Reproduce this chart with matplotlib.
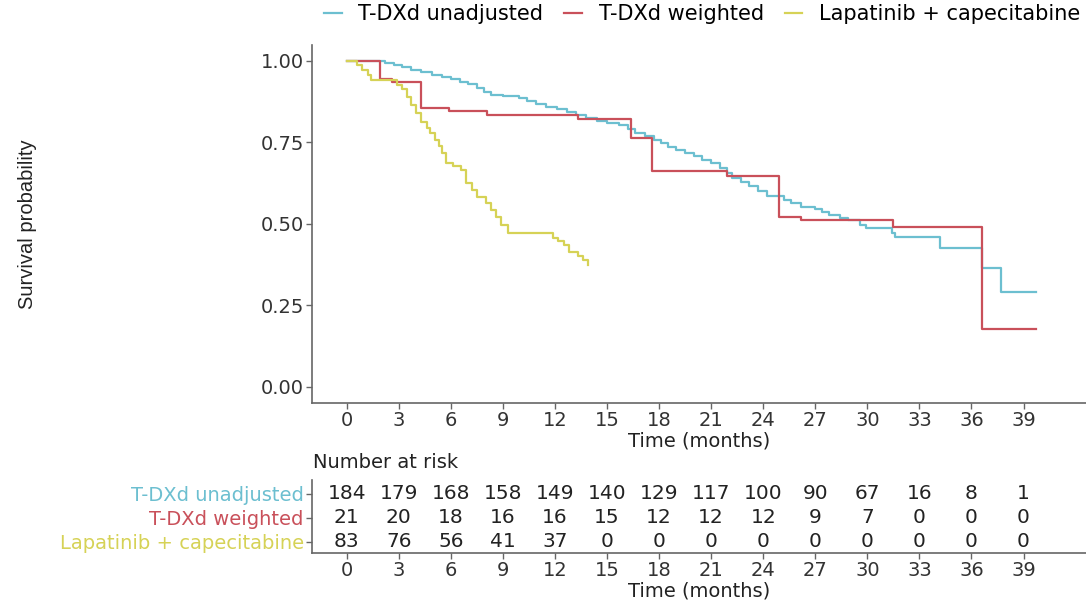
import numpy as np
import matplotlib.pyplot as plt

plt.rcParams['font.family'] = ['DejaVu Sans']

# Kaplan-Meier step points (time in months, survival)
unadj_t = [0, 2.2, 2.7, 3.2, 3.7, 4.3, 4.9, 5.5, 6.0, 6.5, 7.0, 7.5, 7.9, 8.3,
           9.0, 9.9, 10.4, 10.9, 11.5, 12.1, 12.7, 13.2, 13.8, 14.4, 15.0,
           15.7, 16.2, 16.6, 17.2, 17.7, 18.1, 18.5, 19.0, 19.5, 20.0, 20.5,
           21.0, 21.5, 21.9, 22.2, 22.7, 23.2, 23.7, 24.2, 25.2, 25.6, 26.2,
           27.0, 27.4, 27.8, 28.4, 28.9, 29.6, 29.9, 31.4, 31.6, 34.2, 36.6,
           37.7]
unadj_s = [1.0, 0.995, 0.989, 0.983, 0.973, 0.967, 0.957, 0.950, 0.944, 0.936,
           0.928, 0.917, 0.906, 0.896, 0.893, 0.887, 0.876, 0.867, 0.860,
           0.852, 0.842, 0.833, 0.826, 0.815, 0.810, 0.803, 0.790, 0.778,
           0.770, 0.758, 0.748, 0.737, 0.727, 0.717, 0.707, 0.697, 0.686,
           0.672, 0.657, 0.640, 0.630, 0.615, 0.602, 0.586, 0.572, 0.563,
           0.553, 0.547, 0.535, 0.526, 0.519, 0.512, 0.495, 0.487, 0.472,
           0.460, 0.426, 0.365, 0.292]
unadj_end = 39.7

weighted_t = [0, 1.9, 2.6, 4.26, 5.9, 8.1, 13.3, 16.4, 17.6, 21.9, 24.9, 26.2,
              31.5, 36.6]
weighted_s = [1.0, 0.945, 0.937, 0.855, 0.847, 0.834, 0.822, 0.764, 0.663,
              0.647, 0.522, 0.512, 0.491, 0.178]
weighted_end = 39.7

lapa_t = [0, 0.6, 0.9, 1.2, 1.4, 2.9, 3.2, 3.5, 3.7, 4.0, 4.3, 4.6, 4.8, 5.1,
          5.3, 5.5, 5.7, 6.1, 6.6, 6.9, 7.2, 7.5, 8.0, 8.3, 8.6, 8.9, 9.3,
          11.9, 12.2, 12.5, 12.8, 13.3, 13.6, 13.9]
lapa_s = [1.0, 0.988, 0.972, 0.957, 0.942, 0.926, 0.914, 0.890, 0.865, 0.840,
          0.813, 0.794, 0.778, 0.758, 0.738, 0.717, 0.687, 0.677, 0.666, 0.626,
          0.605, 0.583, 0.564, 0.543, 0.522, 0.497, 0.472, 0.457, 0.447,
          0.436, 0.415, 0.400, 0.388, 0.374]
lapa_end = 13.9

groups = ['T-DXd unadjusted', 'T-DXd weighted', 'Lapatinib + capecitabine']
colors = ['#6cbfd0', '#c9505a', '#d6d256']

risk_times = [0, 3, 6, 9, 12, 15, 18, 21, 24, 27, 30, 33, 36, 39]
risk_unadj = [184, 179, 168, 158, 149, 140, 129, 117, 100, 90, 67, 16, 8, 1]
risk_weighted = [21, 20, 18, 16, 16, 15, 12, 12, 12, 9, 7, 0, 0, 0]
risk_lapa = [83, 76, 56, 41, 37, 0, 0, 0, 0, 0, 0, 0, 0, 0]

W, H = 1086, 601
fig = plt.figure(figsize=(W / 100, H / 100), dpi=100)


def fx(px):
    return px / W


def fy(py):
    return 1 - py / H


spine_col = '#666666'
txt_col = '#333333'

# survival curves
ax = fig.add_axes([fx(312), fy(403), fx(1086) - fx(312), fy(44.7) - fy(403)])
curves = [(unadj_t, unadj_s, unadj_end), (weighted_t, weighted_s, weighted_end),
          (lapa_t, lapa_s, lapa_end)]
handles = []
for (t, s, end), col, name in zip(curves, colors, groups):
    tt = list(t) + [end]
    ss = list(s) + [s[-1]]
    h, = ax.step(tt, ss, where='post', color=col, lw=1.6, label=name)
    handles.append(h)

ax.set_xlim(-2.0, 42.6)
ax.set_ylim(-0.05, 1.05)
ax.set_xticks(risk_times)
ax.set_yticks([0, 0.25, 0.5, 0.75, 1.0])
ax.set_yticklabels(['%.2f' % v for v in [0, 0.25, 0.5, 0.75, 1.0]])
for side in ['top', 'right']:
    ax.spines[side].set_visible(False)
for side in ['left', 'bottom']:
    ax.spines[side].set_color(spine_col)
    ax.spines[side].set_linewidth(1.2)
ax.tick_params(length=4, width=1, color=spine_col, labelsize=14,
               labelcolor=txt_col, pad=2)
ax.set_xlabel('Time (months)', fontsize=14, labelpad=0.5, color='#222222')

fig.text(fx(28), fy(224), 'Survival probability', rotation=90, ha='center',
         va='center', family='Liberation Sans', fontsize=14.5, color='#222222')

fig.legend(handles, groups, loc='upper left', bbox_to_anchor=(fx(324), fy(4)),
           ncol=3, frameon=False, fontsize=15, handlelength=0.85,
           handletextpad=0.8, columnspacing=1.0, borderaxespad=0, borderpad=0)

# risk table
tab = fig.add_axes([fx(312), fy(553), fx(1086) - fx(312), fy(480) - fy(553)])
tab.set_xlim(-2.0, 42.6)
tab.set_ylim(0.54, 3.58)
for row, vals in zip([3, 2, 1], [risk_unadj, risk_weighted, risk_lapa]):
    for t, n in zip(risk_times, vals):
        tab.text(t, row, str(n), ha='center', va='center', fontsize=14.5,
                 color='#222222')
tab.set_yticks([3, 2, 1])
tab.set_yticklabels(groups)
for lab, col in zip(tab.get_yticklabels(), colors):
    lab.set_color(col)
tab.set_xticks(risk_times)
for side in ['top', 'right']:
    tab.spines[side].set_visible(False)
for side in ['left', 'bottom']:
    tab.spines[side].set_color(spine_col)
    tab.spines[side].set_linewidth(1.2)
tab.tick_params(length=4, width=1, color=spine_col, labelsize=14, pad=2)
tab.tick_params(axis='x', labelcolor=txt_col)
tab.set_xlabel('Time (months)', fontsize=14, labelpad=0.5, color='#222222')

fig.text(fx(313), fy(463), 'Number at risk', ha='left', va='center',
         fontsize=14, color='#222222')

fig.savefig('out.png', dpi=100)
